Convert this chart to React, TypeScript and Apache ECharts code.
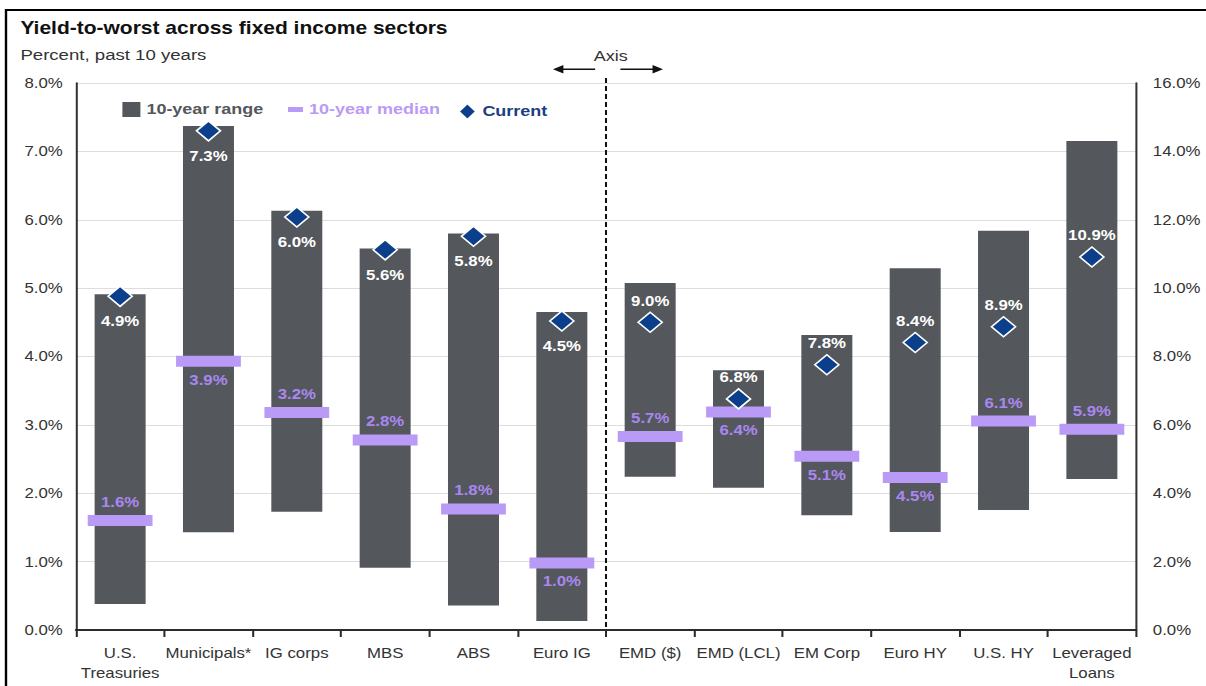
import React, { useEffect, useRef } from 'react';
import * as echarts from 'echarts';

// ---------- data ----------
const categories = [
  'U.S.\nTreasuries', 'Municipals*', 'IG corps', 'MBS', 'ABS', 'Euro IG',
  'EMD ($)', 'EMD (LCL)', 'EM Corp', 'Euro HY', 'U.S. HY', 'Leveraged\nLoans',
];
// left axis sectors (0-8%)
const leftLow = [0.38, 1.43, 1.73, 0.91, 0.36, 0.13];
const leftHigh = [4.91, 7.37, 6.13, 5.58, 5.8, 4.65];
const leftMedian = [1.6, 3.93, 3.18, 2.78, 1.77, 0.98];
const leftCurrent = [4.88, 7.3, 6.04, 5.56, 5.76, 4.52];
// right axis sectors (0-16%)
const rightLow = [4.48, 4.16, 3.36, 2.87, 3.51, 4.42];
const rightHigh = [10.15, 7.6, 8.63, 10.58, 11.68, 14.3];
const rightMedian = [5.66, 6.38, 5.08, 4.46, 6.11, 5.87];
const rightCurrent = [9.0, 6.76, 7.76, 8.41, 8.87, 10.91];
// label placement
const medianLabelPos = ['top', 'bottom', 'top', 'top', 'top', 'bottom', 'top', 'bottom', 'bottom', 'bottom', 'top', 'top'];
const currentLabelPos = ['bottom', 'bottom', 'bottom', 'bottom', 'bottom', 'bottom', 'top', 'top', 'top', 'top', 'top', 'top'];

// ---------- styling ----------
const S = 1.2; // horizontal stretch of the reference
const W = 1206 / S;
const H = 686;
const FONT = '"Liberation Sans", Arial, sans-serif';
const RANGE_COLOR = '#54575b';
const MEDIAN_COLOR = '#b99af6';
const MEDIAN_TEXT = '#a987f0';
const CURRENT_COLOR = '#0b3f8c';
const BAR_W = 42.5;
const GRID_LEFT = 63.3;
const GRID_RIGHT = W - 946.7;
const GRID_TOP = 83;
const GRID_BOTTOM = H - 630;

const pct = (v: number) => v.toFixed(1) + '%';

export default function App() {
  const ref = useRef<HTMLDivElement>(null);

  useEffect(() => {
    if (!ref.current) return;
    const chart = echarts.init(ref.current, undefined, { renderer: 'svg' });

    const rangeItem = (_params: any, api: any) => {
      const x = api.value(0);
      const lo = api.coord([x, api.value(1)]);
      const hi = api.coord([x, api.value(2)]);
      return {
        type: 'rect',
        shape: { x: lo[0] - BAR_W / 2, y: hi[1], width: BAR_W, height: lo[1] - hi[1] },
        style: { fill: RANGE_COLOR },
      };
    };

    const medianData = (vals: number[], offset: number) =>
      vals.map((v, i) => ({
        value: [i + offset, v],
        label: { position: medianLabelPos[i + offset] },
      }));
    const currentData = (vals: number[], offset: number) =>
      vals.map((v, i) => ({
        value: [i + offset, v],
        label: { position: currentLabelPos[i + offset], distance: currentLabelPos[i + offset] === 'top' ? 4 : 7 },
      }));

    const medianSeries = (vals: number[], offset: number, axis: number) => ({
      type: 'scatter',
      name: '10-year median',
      yAxisIndex: axis,
      symbol: 'rect',
      symbolSize: [54, 11],
      itemStyle: { color: MEDIAN_COLOR, opacity: 1 },
      z: 3,
      silent: true,
      label: {
        show: true,
        distance: 6,
        color: MEDIAN_TEXT,
        fontFamily: FONT,
        fontWeight: 'bold',
        fontSize: 14,
        formatter: (p: any) => pct(p.value[1]),
      },
      data: medianData(vals, offset),
    });

    const currentSeries = (vals: number[], offset: number, axis: number) => ({
      type: 'scatter',
      name: 'Current',
      yAxisIndex: axis,
      symbol: 'diamond',
      symbolSize: 20,
      itemStyle: { color: CURRENT_COLOR, borderColor: '#ffffff', borderWidth: 1.5, opacity: 1 },
      z: 4,
      silent: true,
      label: {
        show: true,
        color: '#ffffff',
        fontFamily: FONT,
        fontWeight: 'bold',
        fontSize: 14,
        formatter: (p: any) => pct(p.value[1]),
      },
      data: currentData(vals, offset),
    });

    const legendBase = {
      top: 97,
      orient: 'horizontal',
      selectedMode: false,
      textStyle: { fontFamily: FONT, fontWeight: 'bold', fontSize: 15 },
    };

    chart.setOption({
      animation: false,
      backgroundColor: '#ffffff',
      textStyle: { fontFamily: FONT },
      grid: { left: GRID_LEFT, right: GRID_RIGHT, top: GRID_TOP, bottom: GRID_BOTTOM, containLabel: false },
      legend: [
        {
          ...legendBase,
          left: 97,
          itemWidth: 15,
          itemHeight: 15,
          data: [{ name: '10-year range', icon: 'rect' }],
          textStyle: { ...legendBase.textStyle, color: RANGE_COLOR },
        },
        {
          ...legendBase,
          left: 235,
          itemWidth: 12.5,
          itemHeight: 5,
          data: [{ name: '10-year median', icon: 'rect' }],
          textStyle: { ...legendBase.textStyle, color: MEDIAN_COLOR },
        },
        {
          ...legendBase,
          left: 376,
          itemWidth: 15,
          itemHeight: 17,
          data: [{ name: 'Current', icon: 'diamond' }],
          textStyle: { ...legendBase.textStyle, color: '#1d3f80' },
        },
      ],
      xAxis: {
        type: 'category',
        data: categories,
        boundaryGap: true,
        axisLine: { show: true, lineStyle: { color: '#2b2b2b', width: 2 } },
        axisTick: { show: true, length: 7, alignWithLabel: false, lineStyle: { color: '#2b2b2b', width: 1.7 } },
        axisLabel: {
          interval: 0,
          margin: 13,
          color: '#333333',
          fontSize: 14,
          lineHeight: 20,
          fontFamily: FONT,
        },
        splitLine: { show: false },
      },
      yAxis: [
        {
          type: 'value',
          min: 0,
          max: 8,
          interval: 1,
          position: 'left',
          axisLine: { show: true, lineStyle: { color: '#333333', width: 1.7 } },
          axisTick: { show: false },
          axisLabel: { formatter: (v: number) => pct(v), color: '#333333', fontSize: 14, margin: 11, fontFamily: FONT },
          splitLine: { show: true, lineStyle: { color: '#dddddd', width: 1.2 } },
        },
        {
          type: 'value',
          min: 0,
          max: 16,
          interval: 2,
          position: 'right',
          axisLine: { show: true, lineStyle: { color: '#333333', width: 1.7 } },
          axisTick: { show: false },
          axisLabel: { formatter: (v: number) => pct(v), color: '#333333', fontSize: 14, margin: 14, fontFamily: FONT },
          splitLine: { show: false },
        },
      ],
      graphic: [
        {
          type: 'rect',
          silent: true,
          shape: { x: 5, y: 10, width: 1200, height: 900 },
          style: { fill: 'none', stroke: '#000000', lineWidth: 2 },
        },
        {
          type: 'text',
          x: 17,
          y: 28,
          style: {
            text: 'Yield-to-worst across fixed income sectors',
            fontFamily: FONT,
            fontWeight: 'bold',
            fontSize: 17.5,
            fill: '#111111',
            verticalAlign: 'middle',
            align: 'left',
          },
        },
        {
          type: 'text',
          x: 17,
          y: 55,
          style: {
            text: 'Percent, past 10 years',
            fontFamily: FONT,
            fontSize: 15.5,
            fill: '#333333',
            verticalAlign: 'middle',
            align: 'left',
          },
        },
        {
          type: 'text',
          x: 509,
          y: 56,
          style: {
            text: 'Axis',
            fontFamily: FONT,
            fontSize: 15,
            fill: '#333333',
            verticalAlign: 'middle',
            align: 'center',
          },
        },
        {
          type: 'line',
          shape: { x1: 467, y1: 69.3, x2: 496, y2: 69.3 },
          style: { stroke: '#111111', lineWidth: 1.6 },
        },
        {
          type: 'polygon',
          shape: { points: [[460.8, 69.3], [469.5, 65], [469.5, 73.6]] },
          style: { fill: '#111111' },
        },
        {
          type: 'line',
          shape: { x1: 517, y1: 69.3, x2: 546, y2: 69.3 },
          style: { stroke: '#111111', lineWidth: 1.6 },
        },
        {
          type: 'polygon',
          shape: { points: [[552.5, 69.3], [543.8, 65], [543.8, 73.6]] },
          style: { fill: '#111111' },
        },
        {
          type: 'line',
          z: 10,
          shape: { x1: 505, y1: 78, x2: 505, y2: 630 },
          style: { stroke: '#111111', lineWidth: 1.7, lineDash: [5, 3] },
        },
      ],
      series: [
        {
          type: 'custom',
          name: '10-year range',
          yAxisIndex: 0,
          renderItem: rangeItem,
          itemStyle: { color: RANGE_COLOR },
          encode: { x: 0, y: [1, 2] },
          z: 2,
          silent: true,
          data: leftLow.map((l, i) => [i, l, leftHigh[i]]),
        },
        {
          type: 'custom',
          name: '10-year range',
          yAxisIndex: 1,
          renderItem: rangeItem,
          itemStyle: { color: RANGE_COLOR },
          encode: { x: 0, y: [1, 2] },
          z: 2,
          silent: true,
          data: rightLow.map((l, i) => [i + 6, l, rightHigh[i]]),
        },
        medianSeries(leftMedian, 0, 0),
        medianSeries(rightMedian, 6, 1),
        currentSeries(leftCurrent, 0, 0),
        currentSeries(rightCurrent, 6, 1),
      ],
    });

    return () => chart.dispose();
  }, []);

  return (
    <div
      ref={ref}
      style={{
        position: 'absolute',
        left: 0,
        top: 0,
        width: W,
        height: H,
        transform: `scaleX(${S})`,
        transformOrigin: '0 0',
      }}
    />
  );
}
